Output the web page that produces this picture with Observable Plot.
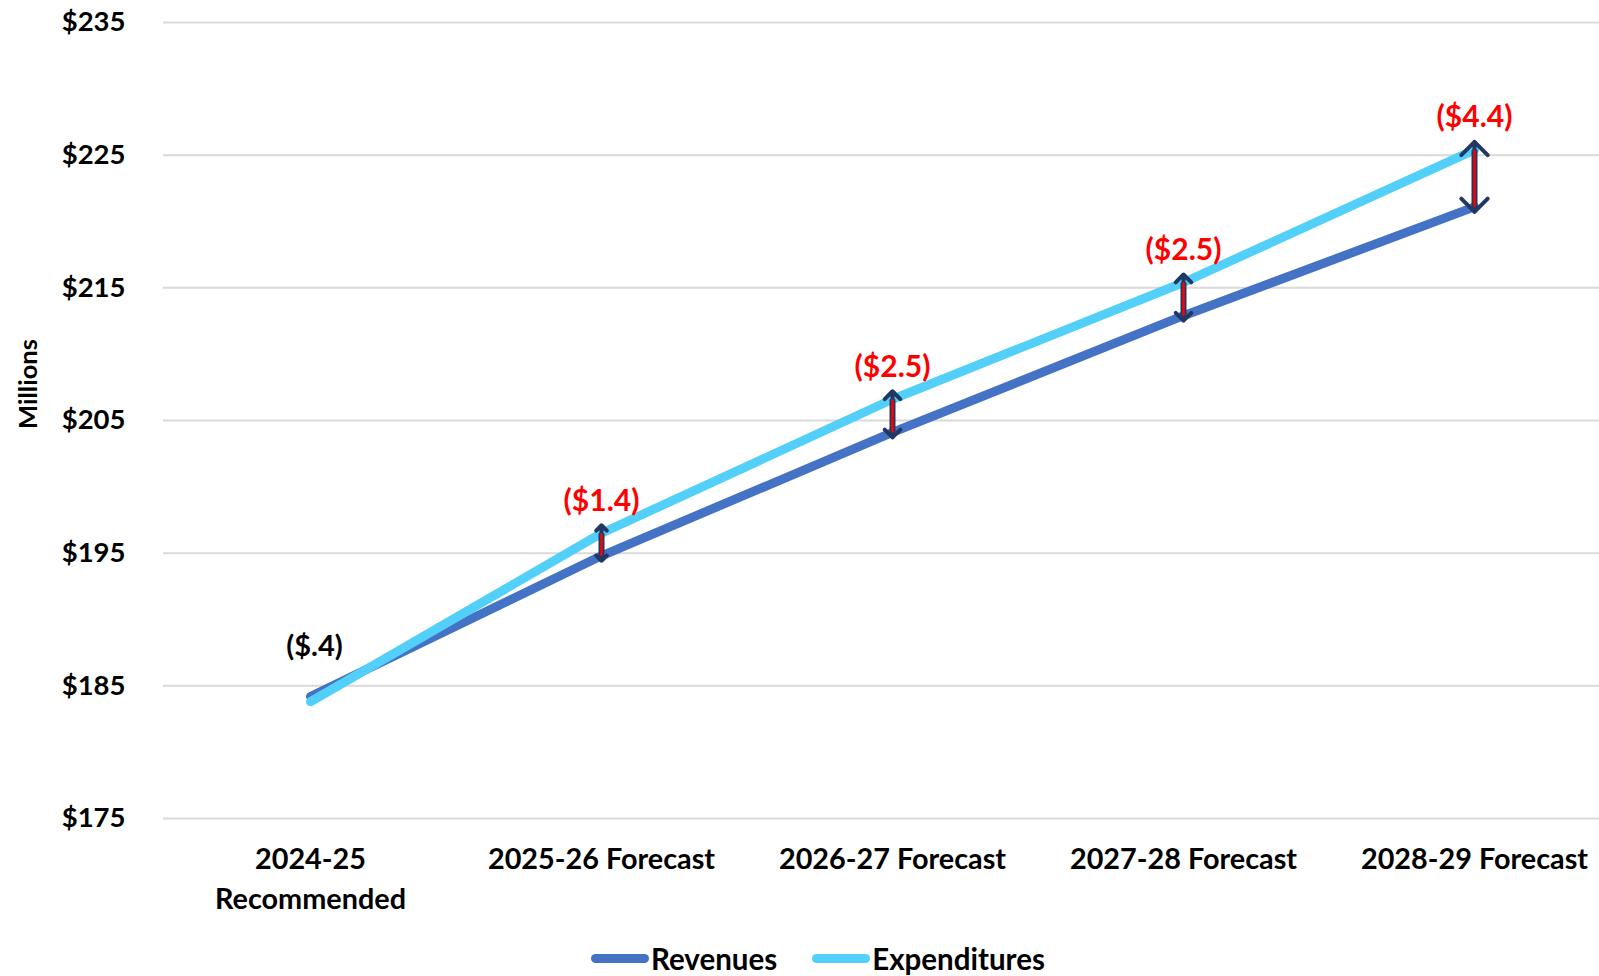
<!DOCTYPE html>
<html>
<head>
<meta charset="utf-8">
<script src="https://cdn.jsdelivr.net/npm/d3@7"></script>
<script src="https://cdn.jsdelivr.net/npm/@observablehq/plot@0.6"></script>
<style>
  html, body { margin: 0; padding: 0; background: #fff; overflow: hidden; }
  body { font-family: Lato, "Open Sans", sans-serif; font-weight: bold; position: relative; width: 1599px; height: 976px; }
  #ylabel { position: absolute; left: 27px; top: 384px; transform: translate(-50%, -50%) rotate(-90deg); font-size: 25.5px; white-space: nowrap; color: #000; }
  #legend { position: absolute; left: 591px; top: 941px; display: flex; align-items: center; font-size: 29.5px; color: #000; }
  .item { display: flex; align-items: center; margin-right: 35px; }
  .sw { width: 58px; height: 9px; border-radius: 5px; margin-right: 2px; }
</style>
</head>
<body>
<div id="chart"></div>
<div id="ylabel">Millions</div>
<div id="legend"></div>
<script>
const categories = ["2024-25\nRecommended", "2025-26 Forecast", "2026-27 Forecast", "2027-28 Forecast", "2028-29 Forecast"];
const revenues = [184.2, 194.8, 204.1, 212.9, 221.1];
const expenditures = [183.8, 196.5, 206.6, 215.4, 225.4];
const gapLabels = ["($.4)", "($1.4)", "($2.5)", "($2.5)", "($4.4)"];
const yTicks = [175, 185, 195, 205, 215, 225, 235];
const seriesNames = ["Revenues", "Expenditures"];
const seriesColors = ["#4472C4", "#52D0F9"];

const rows = categories.map((c, i) => ({cat: c, rev: revenues[i], exp: expenditures[i], gap: gapLabels[i]}));
const gapRows = rows.slice(1);
const firstRow = rows.slice(0, 1);
const upper = d => Math.max(d.rev, d.exp);

const chart = Plot.plot({
  width: 1599,
  height: 920,
  marginLeft: 163,
  marginRight: 0,
  marginTop: 22,
  marginBottom: 102,
  style: {fontFamily: "Lato, 'Open Sans', sans-serif", fontWeight: "bold", fontSize: "27px", color: "#000", background: "#fff", overflow: "visible"},
  x: {type: "point", domain: categories, padding: 0, insetLeft: 145, insetRight: 124},
  y: {domain: [175, 235]},
  marks: [
    Plot.gridY(yTicks, {stroke: "#D9D9D9", strokeOpacity: 1, strokeWidth: 2}),
    Plot.axisY(yTicks, {tickSize: 0, tickPadding: 38, tickFormat: d => `$${d}`, fontSize: 27.5, label: null}),
    Plot.axisX({tickSize: 0, tickPadding: 22, fontSize: 28.8, lineHeight: 1.39, label: null}),
    Plot.line(rows, {x: "cat", y: "rev", stroke: seriesColors[0], strokeWidth: 9, strokeLinecap: "round", strokeLinejoin: "round"}),
    Plot.line(rows, {x: "cat", y: "exp", stroke: seriesColors[1], strokeWidth: 9, strokeLinecap: "round", strokeLinejoin: "round"}),
    Plot.link(gapRows, {x1: "cat", x2: "cat", y1: "rev", y2: "exp", stroke: "#1F3864", strokeWidth: 6}),
    Plot.arrow(gapRows, {x1: "cat", x2: "cat", y1: "rev", y2: "exp", stroke: "#1F3864", strokeWidth: 4, headLength: 7, headAngle: 90, insetEnd: -8, insetStart: 0}),
    Plot.arrow(gapRows, {x1: "cat", x2: "cat", y1: "exp", y2: "rev", stroke: "#1F3864", strokeWidth: 4, headLength: 7, headAngle: 90, insetEnd: -5, insetStart: 0}),
    Plot.link(gapRows, {x1: "cat", x2: "cat", y1: "rev", y2: "exp", stroke: "#FF0000", strokeWidth: 2.5}),
    Plot.text(gapRows, {x: "cat", y: upper, text: "gap", dy: -32, fill: "#FF0000", fontSize: 30, fontWeight: "bold"}),
    Plot.text(firstRow, {x: "cat", y: upper, text: "gap", dy: -50, dx: 4, fill: "#000", fontSize: 29, fontWeight: "bold"})
  ]
});
document.getElementById("chart").appendChild(chart);

const legend = document.getElementById("legend");
seriesNames.forEach((name, i) => {
  const item = document.createElement("div");
  item.className = "item";
  const sw = document.createElement("div");
  sw.className = "sw";
  sw.style.background = seriesColors[i];
  const label = document.createElement("span");
  label.textContent = name;
  item.appendChild(sw);
  item.appendChild(label);
  legend.appendChild(item);
});
</script>
</body>
</html>
